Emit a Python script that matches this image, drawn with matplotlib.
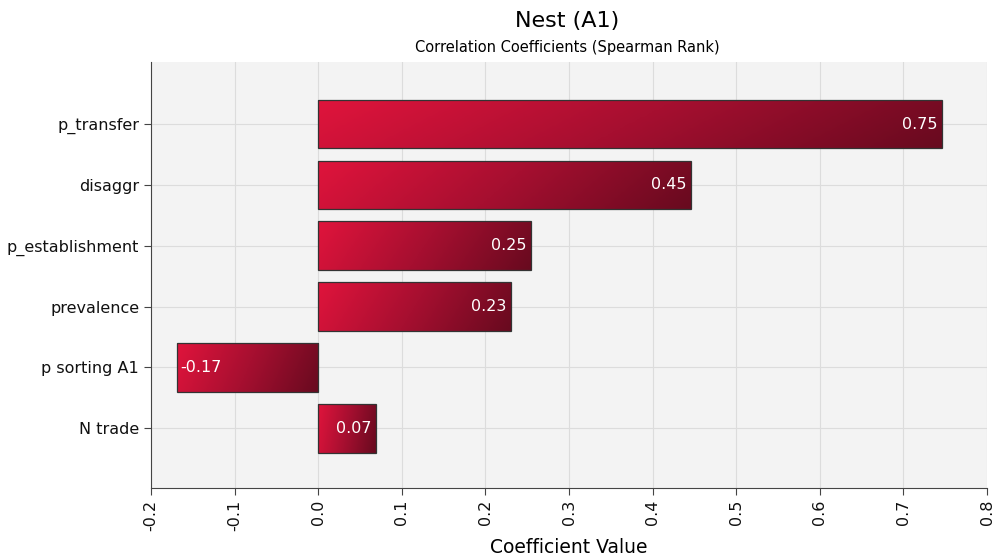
import numpy as np
import matplotlib.pyplot as plt
from matplotlib.colors import LinearSegmentedColormap

params = ['p_transfer', 'disaggr', 'p_establishment', 'prevalence', 'p sorting A1', 'N trade']
coefs = [0.746, 0.446, 0.254, 0.230, -0.169, 0.069]
labels = ['0.75', '0.45', '0.25', '0.23', '-0.17', '0.07']
xticks = [-0.2, -0.1, 0.0, 0.1, 0.2, 0.3, 0.4, 0.5, 0.6, 0.7, 0.8]

plt.rcParams['font.family'] = ['DejaVu Sans']

cmap = LinearSegmentedColormap.from_list('crim', ['#e0143c', '#a60f30', '#680a1f'])

fig = plt.figure(figsize=(9.97, 5.6), dpi=100)
ax = fig.add_axes([0.1515, 0.1286, 0.8385, 0.7607])
ax.set_facecolor('#f3f3f3')

ypos = np.arange(len(params))
bars = ax.barh(ypos, coefs, height=0.8, color='none', edgecolor='#333333', linewidth=0.9, zorder=3)

# left-to-right gradient clipped to each bar (slight diagonal tilt)
gx = np.linspace(0, 1, 256)
gy = np.linspace(0, 0.15, 32)
grad = gx[None, :] + gy[:, None]
for b in bars:
    x0, y0 = b.get_x(), b.get_y()
    w, h = b.get_width(), b.get_height()
    xl, xr = min(x0, x0 + w), max(x0, x0 + w)
    im = ax.imshow(grad, cmap=cmap, vmin=0, vmax=1.15, aspect='auto',
                   extent=[xl, xr, y0 + h, y0], origin='upper', zorder=2)
    im.set_clip_path(b)

for y, v, t in zip(ypos, coefs, labels):
    if v >= 0:
        ax.text(v - 0.005, y, t, ha='right', va='center', color='white', fontsize=11.5, zorder=4)
    else:
        ax.text(v + 0.004, y, t, ha='left', va='center', color='white', fontsize=11.5, zorder=4)

ax.set_xlim(-0.2, 0.8)
ax.set_ylim(5.98, -1.02)
ax.set_yticks(ypos)
ax.set_yticklabels(params, fontsize=11.5)
ax.set_xticks(xticks)
ax.set_xticklabels(['{:.1f}'.format(v) for v in xticks], rotation=90, fontsize=11.5)
ax.grid(True, color='#dcdcdc', linewidth=0.8, zorder=0)
ax.set_axisbelow(True)
for s in ['top', 'right']:
    ax.spines[s].set_visible(False)
for s in ['left', 'bottom']:
    ax.spines[s].set_color('#444444')
ax.tick_params(colors='#444444', labelcolor='#111111', length=5)
ax.set_xlabel('Coefficient Value', fontsize=13.5, labelpad=5)

fig.text(0.5693, 0.962, 'Nest (A1)', ha='center', va='center', fontsize=16)
fig.text(0.5693, 0.915, 'Correlation Coefficients (Spearman Rank)', ha='center', va='center', fontsize=10.5)

fig.savefig('out.png', dpi=100)
